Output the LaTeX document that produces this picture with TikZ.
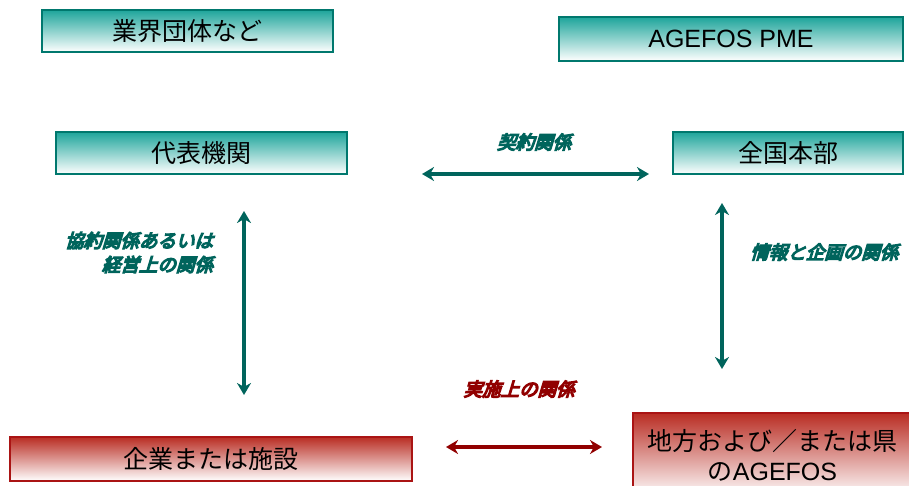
\documentclass[tikz,border=0pt]{standalone}
\usepackage{fontspec}
\setmainfont{Liberation Sans}
\newfontfamily\jp{Noto Sans CJK JP}
\newfontfamily\jplab[FakeSlant=0.3,FakeBold=7]{Noto Sans CJK JP}
\usetikzlibrary{arrows.meta}
\definecolor{tealtop}{RGB}{30,165,155}
\definecolor{tealedge}{RGB}{0,120,110}
\definecolor{tealarrow}{RGB}{0,100,92}
\definecolor{redtop}{RGB}{185,45,35}
\definecolor{rededge}{RGB}{170,20,20}
\definecolor{redarrow}{RGB}{145,0,0}
\tikzset{
  tbox/.style={draw=tealedge, line width=1.2pt, top color=tealtop, bottom color=white,
    inner sep=0pt, font=\fontsize{25}{28}\selectfont, text=black},
  rbox/.style={draw=rededge, line width=1.2pt, top color=redtop, bottom color=white,
    inner sep=0pt, font=\fontsize{25}{30}\selectfont, text=black, align=center},
  tarrow/.style={draw=tealarrow, line width=3.5pt, {Stealth[length=12pt,width=14pt]}-{Stealth[length=12pt,width=14pt]}},
  rarrow/.style={draw=redarrow, line width=4pt, {Stealth[length=12pt,width=14pt]}-{Stealth[length=12pt,width=14pt]}},
  tlab/.style={text=tealarrow, font=\jplab\fontsize{18.5}{24}\selectfont, inner sep=0pt},
  rlab/.style={text=redarrow, font=\jplab\fontsize{18.5}{24}\selectfont, inner sep=0pt}
}
\begin{document}
\begin{tikzpicture}[x=1pt,y=-1pt]
\useasboundingbox (0,0) rectangle (909,485);
\node[tbox, minimum width=291pt, minimum height=42pt] (gyokai) at (187.5,31) {\jp 業界団体など};
\node[tbox, minimum width=344pt, minimum height=44pt] (agefos) at (731,39) {AGEFOS PME};
\node[tbox, minimum width=291pt, minimum height=42pt] (daihyo) at (201.5,153) {\jp 代表機関};
\node[tbox, minimum width=230pt, minimum height=42pt] (honbu) at (788,153) {\jp 全国本部};
\node[rbox, minimum width=402pt, minimum height=44pt] (kigyo) at (211,459) {\jp 企業または施設};
\node[rbox, minimum width=279pt, minimum height=84pt] (chiho) at (772.5,455) {\jp 地方および／または県\\{\jp の}AGEFOS};

\coordinate (h1s) at (422,174);
\coordinate (h1e) at (649,174);
\coordinate (v1s) at (244,211);
\coordinate (v1e) at (244,395);
\coordinate (v2s) at (722,203);
\coordinate (v2e) at (722,369);
\coordinate (h2s) at (446,447);
\coordinate (h2e) at (602,447);

\draw[tarrow] (h1s) -- (h1e);
\draw[tarrow] (v1s) -- (v1e);
\draw[tarrow] (v2s) -- (v2e);
\draw[rarrow] (h2s) -- (h2e);

\node[tlab] (keiyaku) at (534,142) {契約関係};
\node[tlab, align=right, anchor=east] (kyoyaku) at (213,252.5) {協約関係あるいは\\経営上の関係};
\node[tlab, anchor=west] (joho) at (750,252) {情報と企画の関係};
\node[rlab] (jisshi) at (519,389) {実施上の関係};
\end{tikzpicture}
\end{document}
